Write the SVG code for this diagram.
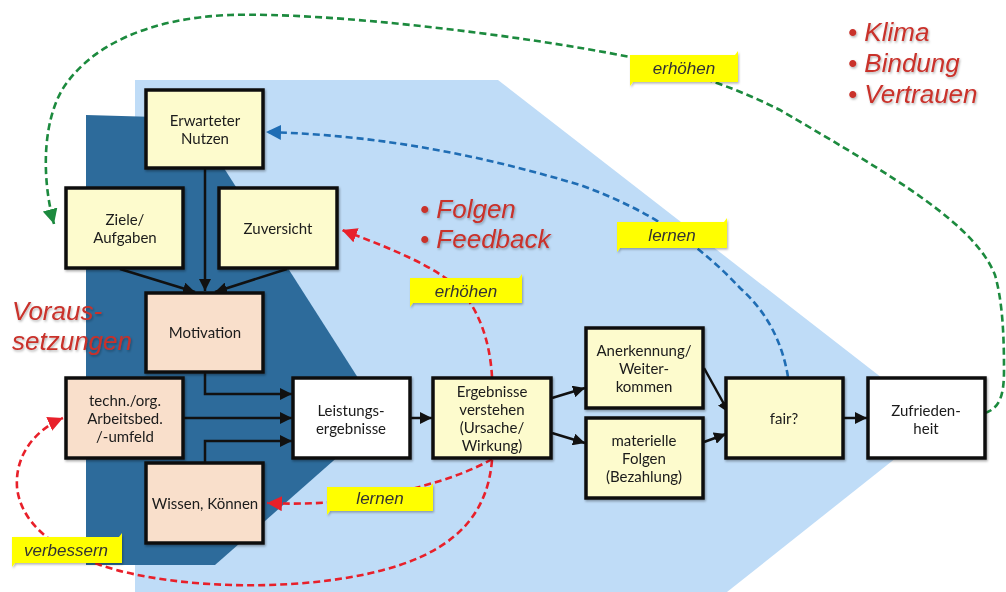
<svg xmlns="http://www.w3.org/2000/svg" width="1006" height="592" viewBox="0 0 1006 592">
<style>
.box{stroke:#111;stroke-width:3.5}
.y{fill:#fdfbcd}
.p{fill:#f9dfcb}
.w{fill:#ffffff}
.t{font-family:Lato,"Open Sans","Liberation Sans",sans-serif;font-size:15px;fill:#1a1a1a;text-anchor:middle}
.solid{fill:none;stroke:#111;stroke-width:2.5}
.dash{fill:none;stroke-width:2.6;stroke-dasharray:7 4}
.tag{fill:#ffff00}
.tt{font-family:"Liberation Sans",Arial,sans-serif;font-style:italic;font-size:17px;fill:#333;text-anchor:middle}
.red{font-family:"Liberation Sans",Arial,sans-serif;font-style:italic;font-size:26px;fill:#c9302a}
</style>
<defs>
<filter id="sh" x="-10%" y="-10%" width="130%" height="130%">
<feDropShadow dx="1" dy="1.5" stdDeviation="1.2" flood-color="#000" flood-opacity="0.35"/>
</filter>
<filter id="tsh" x="-10%" y="-20%" width="130%" height="150%">
<feDropShadow dx="1" dy="1.5" stdDeviation="1.2" flood-color="#000" flood-opacity="0.3"/>
</filter>
<marker id="ab" markerUnits="userSpaceOnUse" markerWidth="12" markerHeight="12" refX="10" refY="5" orient="auto" viewBox="0 0 10 10">
<path d="M0,0 L10,5 L0,10 z" fill="#111"/>
</marker>
<marker id="ag" markerUnits="userSpaceOnUse" markerWidth="15" markerHeight="15" refX="10" refY="5" orient="auto" viewBox="0 0 10 10">
<path d="M0,0 L10,5 L0,10 z" fill="#1c8a3e"/>
</marker>
<marker id="abl" markerUnits="userSpaceOnUse" markerWidth="15" markerHeight="15" refX="10" refY="5" orient="auto" viewBox="0 0 10 10">
<path d="M0,0 L10,5 L0,10 z" fill="#1f6db4"/>
</marker>
<marker id="ar" markerUnits="userSpaceOnUse" markerWidth="15" markerHeight="15" refX="10" refY="5" orient="auto" viewBox="0 0 10 10">
<path d="M0,0 L10,5 L0,10 z" fill="#e8202a"/>
</marker>
</defs>

<g id="background">
<polygon points="135,80 498,80 940,423 727,592 135,592" fill="#bfdcf7"/>
<polygon points="86,115 192,118 383,417 215,565 86,565" fill="#2d6b9b"/>
</g>

<g id="labels-red" filter="url(#tsh)">
<text class="red" x="420" y="218">• Folgen</text>
<text class="red" x="420" y="248">• Feedback</text>
<text class="red" x="848" y="41">• Klima</text>
<text class="red" x="848" y="72">• Bindung</text>
<text class="red" x="848" y="103">• Vertrauen</text>
<text class="red" x="12" y="320">Voraus-</text>
<text class="red" x="12" y="350">setzungen</text>
</g>

<g id="connectors">
<path class="solid" d="M205,169 L205,291" marker-end="url(#ab)"/>
<path class="solid" d="M120,269 L195,292" marker-end="url(#ab)"/>
<path class="solid" d="M287,269 L215,292" marker-end="url(#ab)"/>
<path class="solid" d="M205,373 L205,394 L292,394" marker-end="url(#ab)"/>
<path class="solid" d="M184,418 L292,418" marker-end="url(#ab)"/>
<path class="solid" d="M205,462 L205,441 L292,441" marker-end="url(#ab)"/>
<path class="solid" d="M411,418 L432,418" marker-end="url(#ab)"/>
<path class="solid" d="M552,398 L585,388" marker-end="url(#ab)"/>
<path class="solid" d="M552,433 L585,443" marker-end="url(#ab)"/>
<path class="solid" d="M704,368 L729,413" marker-end="url(#ab)"/>
<path class="solid" d="M704,442 L726,434" marker-end="url(#ab)"/>
<path class="solid" d="M844,418 L867,418" marker-end="url(#ab)"/>

<path class="dash" stroke="#1c8a3e" d="M985,413 C1000,408 1004,395 1004,370 C1004,330 1002,300 995,275 C975,225 900,180 780,110 C740,90 700,75 630,57 C520,35 330,12 230,15 C150,18 90,45 62,90 C42,125 42,180 54,224" marker-end="url(#ag)"/>
<path class="dash" stroke="#1f6db4" d="M788,377 C782,340 765,310 740,288 C700,245 650,210 580,185 C480,155 380,135 266,132" marker-end="url(#abl)"/>
<path class="dash" stroke="#e8202a" d="M492,377 C490,340 478,310 462,292 C440,268 390,248 342,230" marker-end="url(#ar)"/>
<path class="dash" stroke="#e8202a" d="M492,459 C470,472 440,482 400,492 C360,502 310,505 267,503" marker-end="url(#ar)"/>
<path class="dash" stroke="#e8202a" d="M492,460 C488,510 460,545 400,565 C320,592 180,592 100,565 C50,548 20,520 17,487 C15,455 35,430 63,418" marker-end="url(#ar)"/>
</g>

<g id="tags" filter="url(#tsh)">
<g id="tag-erhoehen-top"><path class="tag" d="M630,55 L735,55 L738,51 L738,82 L633,82 L630,86 z"/><text class="tt" x="684" y="74">erhöhen</text></g>
<g id="tag-lernen-top"><path class="tag" d="M617,222 L724,222 L727,218 L727,248 L620,248 L617,252 z"/><text class="tt" x="672" y="241">lernen</text></g>
<g id="tag-erhoehen-mid"><path class="tag" d="M410,278 L519,278 L522,274 L522,303 L413,303 L410,307 z"/><text class="tt" x="466" y="297">erhöhen</text></g>
<g id="tag-lernen-low"><path class="tag" d="M327,487 L430,487 L433,483 L433,511 L330,511 L327,515 z"/><text class="tt" x="380" y="504">lernen</text></g>
<g id="tag-verbessern"><path class="tag" d="M12,537 L119,537 L122,533 L122,563 L15,563 L12,567 z"/><text class="tt" x="66" y="556">verbessern</text></g>
</g>

<g id="node-erwarteter" filter="url(#sh)"><rect class="box y" x="146" y="90" width="117" height="78"/><text class="t" x="205" y="126">Erwarteter</text><text class="t" x="205" y="144">Nutzen</text></g>
<g id="node-ziele" filter="url(#sh)"><rect class="box y" x="66" y="188" width="117" height="80"/><text class="t" x="125" y="225">Ziele/</text><text class="t" x="125" y="243">Aufgaben</text></g>
<g id="node-zuversicht" filter="url(#sh)"><rect class="box y" x="219" y="188" width="118" height="80"/><text class="t" x="278" y="234">Zuversicht</text></g>
<g id="node-motivation" filter="url(#sh)"><rect class="box p" x="146" y="293" width="117" height="79"/><text class="t" x="205" y="338">Motivation</text></g>
<g id="node-techn" filter="url(#sh)"><rect class="box p" x="66" y="378" width="117" height="80"/><text class="t" x="125" y="406">techn./org.</text><text class="t" x="125" y="424">Arbeitsbed.</text><text class="t" x="125" y="442">/-umfeld</text></g>
<g id="node-wissen" filter="url(#sh)"><rect class="box p" x="146" y="463" width="117" height="80"/><text class="t" x="205" y="509">Wissen, Können</text></g>
<g id="node-leistung" filter="url(#sh)"><rect class="box w" x="293" y="378" width="117" height="80"/><text class="t" x="351" y="416">Leistungs-</text><text class="t" x="351" y="434">ergebnisse</text></g>
<g id="node-ergebnisse" filter="url(#sh)"><rect class="box y" x="433" y="378" width="118" height="80"/><text class="t" x="492" y="397">Ergebnisse</text><text class="t" x="492" y="415">verstehen</text><text class="t" x="492" y="433">(Ursache/</text><text class="t" x="492" y="451">Wirkung)</text></g>
<g id="node-anerkennung" filter="url(#sh)"><rect class="box y" x="586" y="328" width="117" height="80"/><text class="t" x="644" y="356">Anerkennung/</text><text class="t" x="644" y="374">Weiter-</text><text class="t" x="644" y="392">kommen</text></g>
<g id="node-materielle" filter="url(#sh)"><rect class="box y" x="586" y="418" width="117" height="80"/><text class="t" x="644" y="446">materielle</text><text class="t" x="644" y="464">Folgen</text><text class="t" x="644" y="482">(Bezahlung)</text></g>
<g id="node-fair" filter="url(#sh)"><rect class="box y" x="726" y="378" width="117" height="80"/><text class="t" x="784" y="424">fair?</text></g>
<g id="node-zufrieden" filter="url(#sh)"><rect class="box w" x="868" y="378" width="117" height="80"/><text class="t" x="926" y="416">Zufrieden-</text><text class="t" x="926" y="434">heit</text></g>
</svg>
